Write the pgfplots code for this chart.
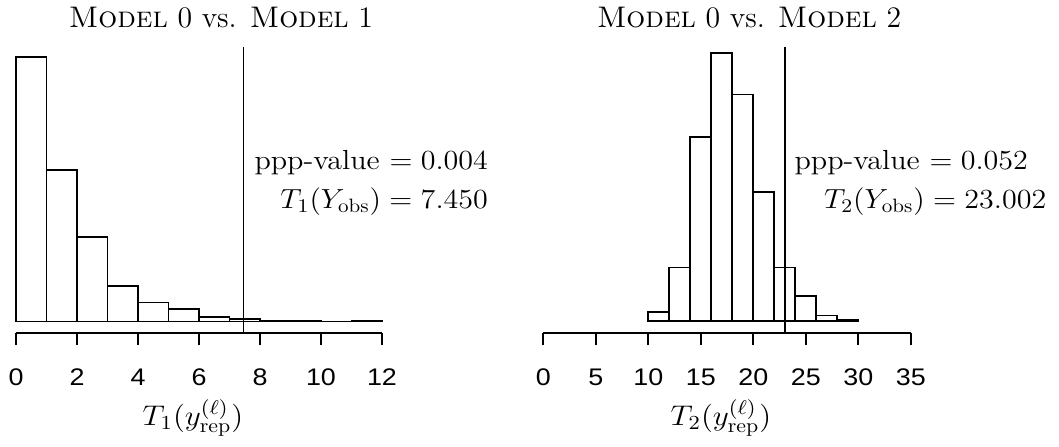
\RequirePackage{fix-cm}
\documentclass[border=0pt]{standalone}
\usepackage{fontspec}
\usepackage{graphicx}
\usepackage{pgfplots}
\pgfplotsset{compat=1.18}
\newfontfamily\ticksans[FakeStretch=1.12]{Liberation Sans}

% replicated test statistics, binned counts (left edge, count)
\pgfplotstableread{
x count
0 460
1 263
2 147
3 61
4 33
5 22
6 8
7 4
8 1
9 1
10 0
11 1
12 0
}\Tone
\pgfplotstableread{
x count
10 10
12 56
14 192
16 279
18 236
20 135
22 56
24 26
26 6
28 1
30 0
}\Ttwo

\newcommand{\txt}{\fontsize{13.8}{16}\selectfont}
\newcommand{\lbl}{\fontsize{14.2}{16}\selectfont}
\newcommand{\ttl}{\fontsize{14.9}{17}\selectfont}
\newcommand{\wide}[1]{\scalebox{1.09}[1]{#1}}

\pgfplotsset{
  histaxis/.style={
    scale only axis, height=143.25pt,
    axis x line=bottom, axis y line=none,
    axis line style={-, line width=0.9pt},
    tick align=outside, major tick length=6pt,
    xtick style={line width=0.9pt, black},
    /pgf/number format/assume math mode=true,
    xticklabel style={font=\ticksans\fontsize{12}{14}\selectfont, anchor=base, yshift=-20pt},
    enlargelimits=false, clip=false,
  },
  hist/.style={ybar interval, fill=white, draw=black, line width=0.95pt},
  obs/.style={black, line width=0.7pt},
}

\begin{document}
\begin{tikzpicture}
\useasboundingbox (0,0) rectangle (529.5pt,223pt);

\begin{axis}[histaxis, at={(8pt,56.5pt)}, anchor=south west, width=183pt,
  xmin=0, xmax=12, ymin=-20, ymax=478.3, xtick={0,2,...,12}]
  \addplot[hist] table[x=x, y=count] {\Tone};
  \addplot[obs] coordinates {(7.450,-20) (7.450,478.3)};
  \node[anchor=base, font=\ttl] at (rel axis cs:0.56,1.0656) {\textsc{Model} 0 vs. \textsc{Model} 1};
  \node[anchor=base east, font=\txt, inner sep=0pt] at (rel axis cs:1.2904,0.5714) {\wide{ppp-value $= 0.004$}};
  \node[anchor=base east, font=\txt, inner sep=0pt] at (rel axis cs:1.2904,0.4363) {\wide{$T_1(Y_{\mathrm{obs}}) = 7.450$}};
  \node[anchor=base, font=\lbl, inner sep=0pt] at (rel axis cs:0.4836,-0.3211) {\scalebox{1.1}[1]{$T_1(y_{\mathrm{rep}}^{(\ell)})$}};
\end{axis}

\begin{axis}[histaxis, at={(271.65pt,56.5pt)}, anchor=south west, width=183.75pt,
  xmin=0, xmax=35, ymin=-12.2, ymax=286, xtick={0,5,...,35}]
  \addplot[hist] table[x=x, y=count] {\Ttwo};
  \addplot[obs] coordinates {(23.002,-12.2) (23.002,286)};
  \node[anchor=base, font=\ttl] at (rel axis cs:0.56,1.0656) {\textsc{Model} 0 vs. \textsc{Model} 2};
  \node[anchor=base east, font=\txt, inner sep=0pt] at (rel axis cs:1.3197,0.5714) {\wide{ppp-value $= 0.052$}};
  \node[anchor=base east, font=\txt, inner sep=0pt] at (rel axis cs:1.3698,0.4363) {\wide{$T_2(Y_{\mathrm{obs}}) = 23.002$}};
  \node[anchor=base, font=\lbl, inner sep=0pt] at (rel axis cs:0.4835,-0.3211) {\scalebox{1.1}[1]{$T_2(y_{\mathrm{rep}}^{(\ell)})$}};
\end{axis}
\end{tikzpicture}
\end{document}
